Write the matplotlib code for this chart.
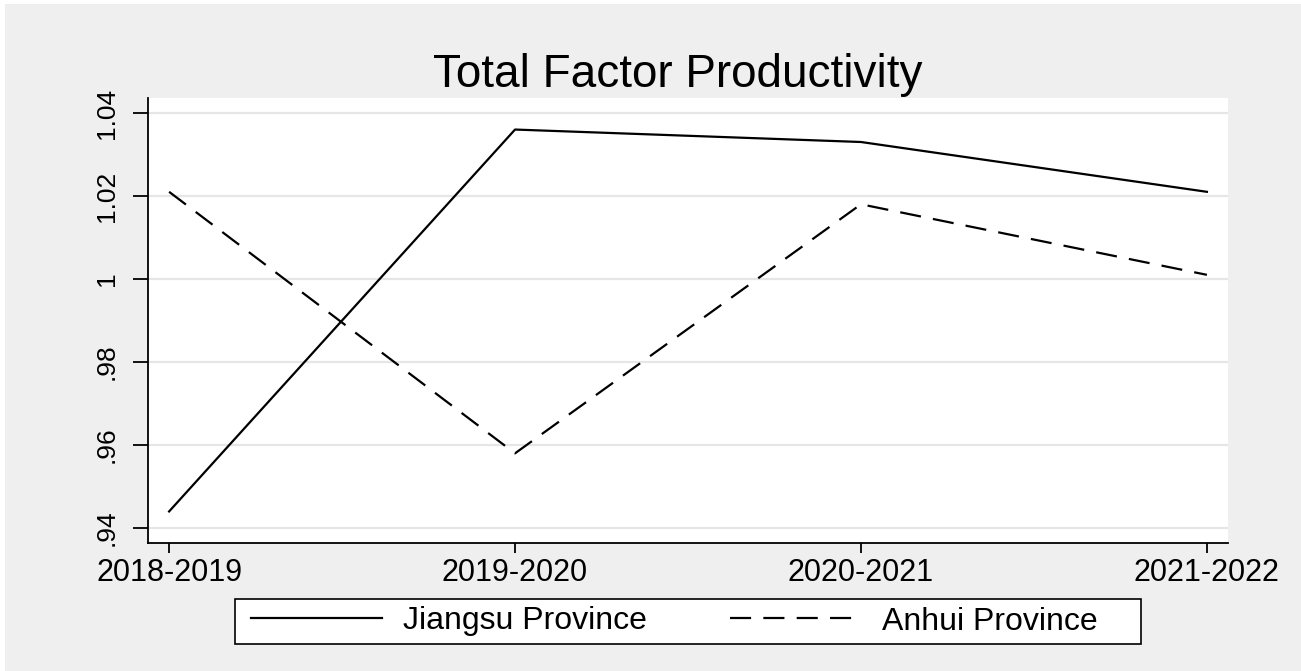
import matplotlib
matplotlib.use('Agg')
import matplotlib.pyplot as plt
from matplotlib.patches import Rectangle

# Du lieu
periods = ['2018-2019', '2019-2020', '2020-2021', '2021-2022']
jiangsu = [0.944, 1.036, 1.033, 1.021]
anhui = [1.021, 0.958, 1.018, 1.001]
yticks = [0.94, 0.96, 0.98, 1.00, 1.02, 1.04]
ylabels = ['.94', '.96', '.98', '1', '1.02', '1.04']

plt.rcParams['font.family'] = ['Liberation Sans', 'DejaVu Sans']

W, H = 1301, 671
fig = plt.figure(figsize=(W / 100, H / 100), dpi=100, facecolor='white')
# nen xam ben ngoai
fig.patches.append(Rectangle((5 / W, 0), 1, 1 - 4 / H, transform=fig.transFigure,
                             facecolor='#EFEFEF', edgecolor='none', zorder=-10))
# khung chu thich
fig.patches.append(Rectangle((235 / W, 1 - 644 / H), 906 / W, 45 / H,
                             transform=fig.transFigure, facecolor='white',
                             edgecolor='black', lw=1.2, zorder=-5))

ax = fig.add_axes([148 / W, 1 - 543 / H, 1080 / W, 445 / H])
ax.set_facecolor('white')

x = list(range(len(periods)))
ax.plot(x, jiangsu, color='black', lw=1.6, label='Jiangsu Province')
ax.plot(x, anhui, color='black', lw=1.6, dashes=(9.5, 5.5), label='Anhui Province')

ax.set_xlim(-0.061, 3.061)
ax.set_ylim(0.9364, 1.0436)
ax.set_xticks(x)
ax.set_xticklabels(periods, fontsize=22)
ax.set_yticks(yticks)
ax.set_yticklabels(ylabels, fontsize=19, rotation=90, va='center')
ax.grid(axis='y', color='#E6E6E6', lw=1.6)
ax.set_axisbelow(True)

for s in ['top', 'right']:
    ax.spines[s].set_visible(False)
for s in ['left', 'bottom']:
    ax.spines[s].set_linewidth(1.3)
ax.tick_params(axis='y', length=11, width=1.3, pad=10)
ax.tick_params(axis='x', length=7, width=1.3, pad=4)

fig.text(678 / W, 1 - 87 / H, 'Total Factor Productivity', fontsize=33,
         ha='center', va='baseline')

leg = fig.legend(loc='center left', bbox_to_anchor=(251 / W, 1 - 621.5 / H),
                 ncol=2, fontsize=23, handlelength=4.1, frameon=False,
                 borderpad=0, borderaxespad=0, handletextpad=0.66,
                 columnspacing=2.6)

fig.savefig('out.png', dpi=100, facecolor=fig.get_facecolor())
